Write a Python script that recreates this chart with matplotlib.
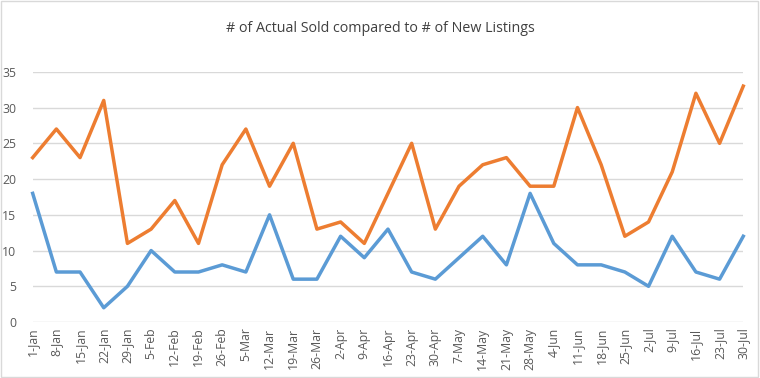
import matplotlib
matplotlib.use('Agg')
import matplotlib.pyplot as plt
from matplotlib.patches import Rectangle

plt.rcParams['font.family'] = ['Open Sans', 'DejaVu Sans']

# Semanas (etiquetas del eje x)
fechas = ['1-Jan', '8-Jan', '15-Jan', '22-Jan', '29-Jan', '5-Feb', '12-Feb', '19-Feb',
          '26-Feb', '5-Mar', '12-Mar', '19-Mar', '26-Mar', '2-Apr', '9-Apr', '16-Apr',
          '23-Apr', '30-Apr', '7-May', '14-May', '21-May', '28-May', '4-Jun', '11-Jun',
          '18-Jun', '25-Jun', '2-Jul', '9-Jul', '16-Jul', '23-Jul', '30-Jul']

# Vendidas realmente
vendidas = [18, 7, 7, 2, 5, 10, 7, 7, 8, 7, 15, 6, 6, 12, 9, 13,
            7, 6, 9, 12, 8, 18, 11, 8, 8, 7, 5, 12, 7, 6, 12]

# Nuevos listados
nuevos = [23, 27, 23, 31, 11, 13, 17, 11, 22, 27, 19, 25, 13, 14, 11, 18,
          25, 13, 19, 22, 23, 19, 19, 30, 22, 12, 14, 21, 32, 25, 33]

fig = plt.figure(figsize=(7.6, 3.78), dpi=100)
ax = fig.add_axes([0.043, 0.148, 0.935, 0.662])

x = range(len(fechas))
ax.plot(x, vendidas, color='#5B9BD5', linewidth=2.5, solid_joinstyle='round', clip_on=False)
ax.plot(x, nuevos, color='#ED7D31', linewidth=2.5, solid_joinstyle='round', clip_on=False)

ax.set_xlim(0, len(fechas) - 1)
ax.set_ylim(0, 35)
ax.set_yticks(range(0, 36, 5))
ax.set_xticks(list(x))
ax.set_xticklabels(fechas, rotation=90, fontsize=8.8, color='#595959')
ax.tick_params(axis='y', labelsize=8.8, labelcolor='#595959', length=0, pad=12)
ax.tick_params(axis='x', length=0, pad=4)
ax.grid(axis='y', color='#D9D9D9', linewidth=1)
ax.set_axisbelow(True)
for s in ax.spines.values():
    s.set_visible(False)

fig.text(0.5, 0.925, '# of Actual Sold compared to # of New Listings',
         ha='center', va='center', fontsize=10.3, color='#404040')

# Borde del gráfico
fig.patches.append(Rectangle((0.001, 0.002), 0.997, 0.995, transform=fig.transFigure,
                             fill=False, edgecolor='#D9D9D9', linewidth=1))

plt.savefig('out.png', dpi=100)
